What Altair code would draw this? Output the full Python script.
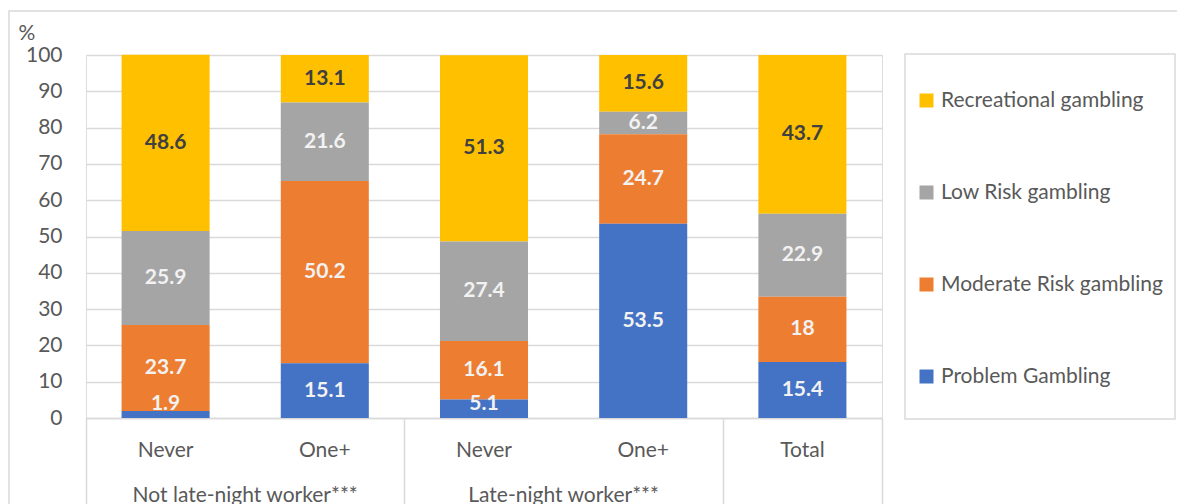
import altair as alt
import pandas as pd

categories = ["Never", "One+", "Never", "One+", "Total"]
groups = ["Not late-night worker***", "Late-night worker***"]
group_centers = [1, 3]
series = ["Recreational gambling", "Low Risk gambling", "Moderate Risk gambling", "Problem Gambling"]
colors = ["#FFC000", "#A5A5A5", "#ED7D31", "#4472C4"]
problem = [1.9, 15.1, 5.1, 53.5, 15.4]
moderate = [23.7, 50.2, 16.1, 24.7, 18]
low = [25.9, 21.6, 27.4, 6.2, 22.9]
recreational = [48.6, 13.1, 51.3, 15.6, 43.7]
y_ticks = list(range(0, 101, 10))
x_separators = [0, 2, 4, 5]

FONT = "Lato"
GREY = "#595959"
LINE = "#d9d9d9"
FS = 21

vals = {
    "Problem Gambling": problem,
    "Moderate Risk gambling": moderate,
    "Low Risk gambling": low,
    "Recreational gambling": recreational,
}
order = {"Problem Gambling": 0, "Moderate Risk gambling": 1, "Low Risk gambling": 2, "Recreational gambling": 3}
rows = []
for i, c in enumerate(categories):
    for s in series:
        v = vals[s][i]
        rows.append({"idx": i, "cat": c, "series": s, "value": v, "ord": order[s], "label": f"{v:g}"})
df = pd.DataFrame(rows)

cat_df = pd.DataFrame({"idx": list(range(len(categories))), "cat": categories})
grp_df = pd.DataFrame({"xc": group_centers, "grp": groups})

W, H = 796, 363
half = 0.2235

base = alt.Chart(df).transform_stack(
    stack="value", groupby=["idx"], sort=[alt.SortField("ord")], as_=["y0", "y1"]
).transform_calculate(
    x0=f"datum.idx + {half}",
    x1=f"datum.idx + 1 - {half}",
    xc="datum.idx + 0.5",
    ymid="max((datum.y0 + datum.y1) / 2, 3.8)",
)

xscale = alt.Scale(domain=[0, 5], nice=False, zero=False)
yscale = alt.Scale(domain=[0, 100], nice=False)

xaxis = alt.Axis(
    values=x_separators, labels=False, title=None, grid=False,
    tickSize=110, tickColor=LINE, tickWidth=1.5,
    domainColor=LINE, domainWidth=1.5)
yaxis = alt.Axis(
    values=y_ticks, title="%", titleAngle=0, titleX=-68, titleY=-22,
    titleAlign="left", titleBaseline="middle", titleFontSize=FS,
    titleFontWeight="normal", titleColor=GREY, titleFont=FONT,
    labelFontSize=FS, labelColor=GREY, labelFont=FONT, labelPadding=24,
    labelOverlap=False, labelFlush=False,
    ticks=False, domain=False, gridColor=LINE, gridWidth=1.5)

bars = base.mark_bar().encode(
    x=alt.X("x0:Q", scale=xscale, axis=xaxis),
    x2="x1:Q",
    y=alt.Y("y0:Q", scale=yscale, axis=yaxis),
    y2="y1:Q",
    color=alt.Color("series:N", scale=alt.Scale(domain=series, range=colors), legend=alt.Legend(
        title=None, orient="none", legendX=830, legendY=35,
        symbolType="square", symbolSize=196, symbolStrokeWidth=0,
        labelFontSize=FS, labelFont=FONT, labelColor=GREY, labelOffset=4,
        rowPadding=70, padding=0, labelLimit=400)),
)

texts = base.mark_text(fontWeight="bold", fontSize=FS, font=FONT, baseline="middle").encode(
    x=alt.X("xc:Q", scale=xscale, axis=xaxis),
    y=alt.Y("ymid:Q", scale=yscale, axis=yaxis),
    text="label:N",
    color=alt.condition("datum.ord == 3", alt.value("#404040"), alt.value("#f2f2f2")),
)

cat_text = alt.Chart(cat_df).transform_calculate(xc="datum.idx + 0.5").mark_text(
    fontSize=FS, font=FONT, color=GREY, baseline="alphabetic"
).encode(x=alt.X("xc:Q", scale=xscale, axis=xaxis), y=alt.value(H + 39), text="cat:N")

grp_text = alt.Chart(grp_df).mark_text(
    fontSize=FS, font=FONT, color=GREY, baseline="alphabetic"
).encode(x=alt.X("xc:Q", scale=xscale, axis=xaxis), y=alt.value(H + 84), text="grp:N")

one = pd.DataFrame({"a": [0]})
legend_box = alt.Chart(one).mark_rect(fillOpacity=0, stroke=LINE, strokeWidth=1.5).encode(
    x=alt.value(819), x2=alt.value(1089), y=alt.value(-1), y2=alt.value(364))
outer_box = alt.Chart(one).mark_rect(fillOpacity=0, stroke=LINE, strokeWidth=1.5).encode(
    x=alt.value(-77), x2=alt.value(1300), y=alt.value(-44), y2=alt.value(700))

chart = alt.layer(outer_box, legend_box, bars, texts, cat_text, grp_text).properties(
    width=W, height=H,
    autosize=alt.AutoSizeParams(type="none"),
    padding={"left": 78, "top": 47, "right": 295, "bottom": 100},
).configure_view(strokeWidth=0).configure(font=FONT)

chart.save("out.html", embed_options={"renderer": "svg", "actions": False})
